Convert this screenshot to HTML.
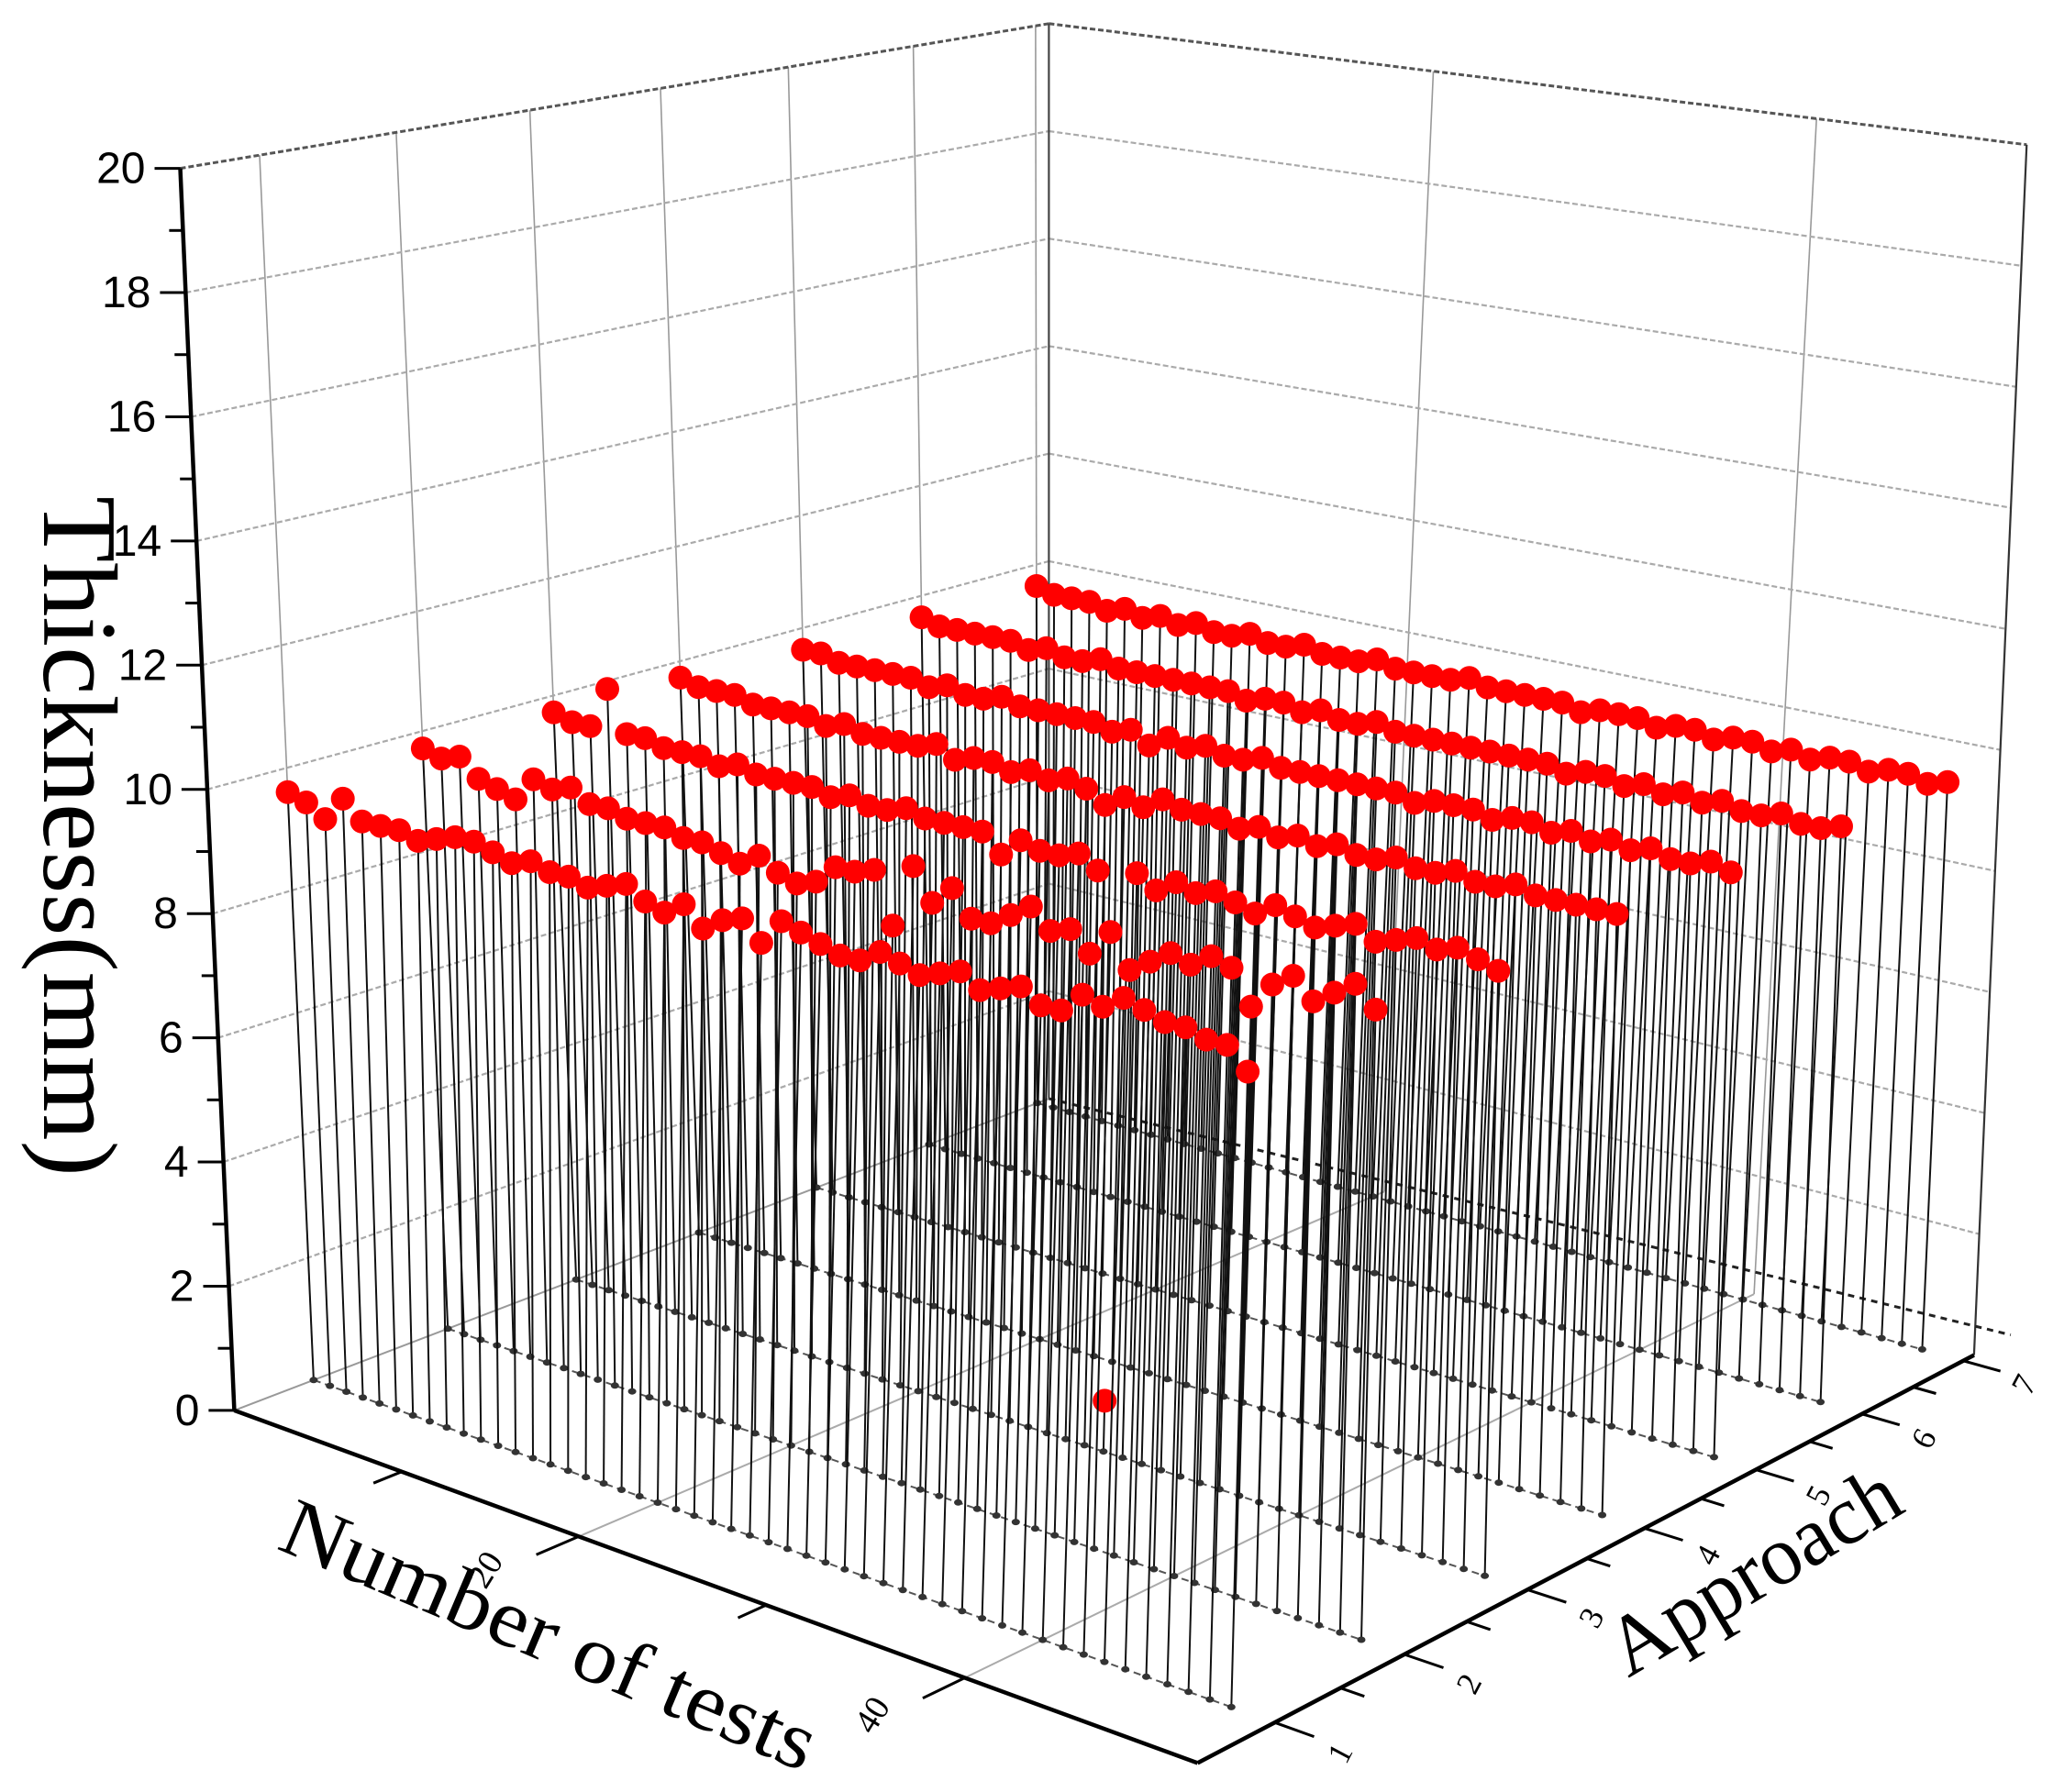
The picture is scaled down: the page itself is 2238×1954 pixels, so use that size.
<!DOCTYPE html>
<html><head><meta charset="utf-8"><style>
html,body{margin:0;padding:0;background:#fff;}
svg{display:block;}
</style></head><body>
<svg id="chart" width="2238" height="1954" viewBox="0 0 2238 1954" xmlns="http://www.w3.org/2000/svg">
<g id="walls"></g>
<g id="floor"></g>
<g id="series"></g>
<g id="axes"></g>
<text transform="translate(48,541) rotate(90)" font-family="Liberation Serif, serif" font-size="116" textLength="742" lengthAdjust="spacingAndGlyphs" fill="#000">Thickness(mm)</text>
<text transform="translate(300,1688) rotate(23)" font-family="Liberation Serif, serif" font-size="90" textLength="625" lengthAdjust="spacingAndGlyphs" fill="#000">Number of tests</text>
<text transform="translate(1775,1830) rotate(-31)" font-family="Liberation Serif, serif" font-size="92" textLength="355" lengthAdjust="spacingAndGlyphs" fill="#000">Approach</text>
</svg>
<script>
const approaches = [1,2,3,4,5,6,7];
const zTicks = [0,2,4,6,8,10,12,14,16,18,20];
const xTicks = [10,20,30,40];
const xTickLabels = ["","20","","40"];
const yTickLabels = ["1","2","3","4","5","6","7"];
const row1 = [9.6,9.5,9.3,9.7,9.4,9.4,9.4,9.3,9.4,9.5,9.5,9.4,9.3,9.4,9.3,9.3,9.2,9.3,9.4,9.2,9.1,9.3,9.0,9.2,9.3,9.0,9.4,9.3,9.2,9.1,9.1,9.3,9.2,9.1,9.2,9.3,9.1,9.2,9.3,9.1,9.1,9.4,9.3,9.5,9.4,9.3,9.3,9.2,9.2,8.9];
const row2 = [9.7,9.6,9.7,9.4,9.3,9.2,9.6,9.5,9.6,9.4,9.4,9.3,9.3,9.3,9.2,9.2,9.1,9.0,9.2,9.0,8.9,9.0,9.3,9.3,9.4,8.6,9.6,9.1,9.4,9.0,9.0,9.2,9.4,9.1,9.2,8.9,9.3,8.8,9.0,9.2,9.1,9.3,9.2,8.7,9.1,9.3,9.0,9.2,9.4,9.1];
const row3 = [9.7,9.6,9.6,10.3,9.6,9.6,9.5,9.5,9.5,9.4,9.5,9.4,9.4,9.4,9.4,9.3,9.4,9.3,9.3,9.4,9.3,9.3,9.3,9.3,9.0,9.3,9.2,9.2,9.3,9.1,0.8,9.2,9.0,9.2,9.1,9.2,9.1,9.0,9.2,9.1,9.0,9.1,9.2,9.0,9.1,9.2,9.1,9.2,9.1,9.0];
const row4 = [9.7,9.6,9.6,9.6,9.5,9.5,9.5,9.5,9.4,9.5,9.4,9.4,9.4,9.4,9.5,9.3,9.4,9.4,9.3,9.4,9.3,9.4,9.3,9.1,9.3,9.2,9.4,9.3,9.3,9.3,9.2,9.3,9.2,9.3,9.2,9.3,9.2,9.2,9.3,9.2,9.2,9.3,9.2,9.2,9.3,9.2,9.2,9.2,9.2,9.2];
const row5 = [9.6,9.6,9.5,9.5,9.5,9.5,9.5,9.4,9.5,9.4,9.4,9.5,9.4,9.4,9.4,9.4,9.4,9.3,9.4,9.2,9.4,9.3,9.4,9.3,9.3,9.4,9.3,9.3,9.3,9.3,9.3,9.3,9.3,9.2,9.3,9.3,9.3,9.2,9.3,9.3,9.2,9.3,9.2,9.3,9.2,9.3,9.2,9.2,9.3,9.2];
const row6 = [9.6,9.5,9.5,9.5,9.5,9.5,9.4,9.5,9.4,9.4,9.5,9.4,9.4,9.4,9.4,9.4,9.4,9.4,9.3,9.4,9.4,9.3,9.4,9.3,9.3,9.4,9.3,9.3,9.3,9.3,9.3,9.3,9.3,9.3,9.3,9.2,9.3,9.3,9.2,9.3,9.2,9.3,9.2,9.3,9.2,9.2,9.3,9.2,9.2,9.3];
const row7 = [9.6,9.5,9.5,9.5,9.4,9.5,9.4,9.5,9.4,9.5,9.4,9.4,9.5,9.4,9.4,9.5,9.4,9.4,9.4,9.5,9.4,9.4,9.4,9.4,9.5,9.4,9.4,9.4,9.4,9.4,9.3,9.4,9.4,9.4,9.3,9.4,9.4,9.3,9.4,9.4,9.3,9.4,9.3,9.4,9.4,9.3,9.4,9.4,9.3,9.4];
const rows = [row1,row2,row3,row4,row5,row6,row7];

const NS='http://www.w3.org/2000/svg';
const T_MAX=51, A0=0.43, A1=7.11, Z_MAX=20;
function makeH(p0,p1,p2,p3){
  const x0=p0[0],y0=p0[1],x1=p1[0],y1=p1[1],x2=p2[0],y2=p2[1],x3=p3[0],y3=p3[1];
  const dx1=x1-x2,dx2=x3-x2,dx3=x0-x1+x2-x3,dy1=y1-y2,dy2=y3-y2,dy3=y0-y1+y2-y3;
  const den=dx1*dy2-dx2*dy1;
  const g=(dx3*dy2-dx2*dy3)/den,h=(dx1*dy3-dx3*dy1)/den;
  const a=x1-x0+g*x1,b=x3-x0+h*x3,d=y1-y0+g*y1,e=y3-y0+h*y3;
  return (u,v)=>{const w=g*u+h*v+1;return [(a*u+b*v+x0)/w,(d*u+e*v+y0)/w];};
}
const H0=makeH([255.4,1537.9],[1305.5,1922.4],[2151.9,1477.6],[1143.4,1197.9]);
const H1=makeH([196.5,183.6],[1348.5,325],[2209.3,157.8],[1143.4,25.8]);
function P(t,a,z){
  const u=t/T_MAX,v=(a-A0)/(A1-A0);
  const f=H0(u,v),g=H1(u,v),s=z/Z_MAX;
  return [f[0]+(g[0]-f[0])*s,f[1]+(g[1]-f[1])*s];
}
function el(parent,tag,attrs){const e=document.createElementNS(NS,tag);for(const k in attrs)e.setAttribute(k,attrs[k]);parent.appendChild(e);return e;}
function line(parent,p,q,stroke,w,dash){const a={x1:p[0].toFixed(1),y1:p[1].toFixed(1),x2:q[0].toFixed(1),y2:q[1].toFixed(1),stroke:stroke,'stroke-width':w};if(dash)a['stroke-dasharray']=dash;return el(parent,'line',a);}

const walls=document.getElementById('walls');
approaches.forEach(a=>{const l=line(walls,P(0,a,0),P(0,a,Z_MAX),'#999',1.6);

});
[20,40].forEach(t=>{const l=line(walls,P(t,A1,0),P(t,A1,Z_MAX),'#999',1.6);

});
zTicks.forEach(z=>{
  if(z===0)return;
  const top=z===Z_MAX;
  const c=top?'#555':'#aaa', w=top?3:2.2;
  const l1=line(walls,P(0,A0,z),P(0,A1,z),c,w,'6 3');
  
  
  const l2=line(walls,P(0,A1,z),P(T_MAX,A1,z),c,w,'6 3');
  
  
});
const corner=line(walls,P(0,A1,0),P(0,A1,Z_MAX),'#444',2.2);


const rEdge=line(walls,P(T_MAX,A1,0),P(T_MAX,A1,Z_MAX),'#333',2.2);



const floor=document.getElementById('floor');
[20,40].forEach(t=>{const l=line(floor,P(t,A0,0),P(t,A1,0),'#aaa',2);

});
const fe1=line(floor,P(0,A0,0),P(0,A1,0),'#999',2);


const fe2=line(floor,P(0,A1,0),[P(T_MAX,A1,0)[0]+40,P(T_MAX,A1,0)[1]-22],'#222',3,'7 6');



const series=document.getElementById('series');
for(let r=rows.length-1;r>=0;r--){
  const a=approaches[r], vals=rows[r];
  const g=el(series,'g',{});
  
  
  const fl=line(g,P(0,a,0),P(vals.length-1,a,0),'#555',2,'8 5');
  
  
  vals.forEach((v,i)=>{
    const t=i, b=P(t,a,0), p=P(t,a,v);
    const s=line(g,b,p,'#111',2);
    
    
    const fd=el(g,'ellipse',{cx:b[0].toFixed(1),cy:b[1].toFixed(1),rx:4.5,ry:3.5,fill:'#333'});
    
    
  });
  vals.forEach((v,i)=>{
    const p=P(i,a,v);
    const c=el(g,'circle',{cx:p[0].toFixed(1),cy:p[1].toFixed(1),r:13,fill:'#ff0000'});
    
    
  });
}

const axes=document.getElementById('axes');
const zax=line(axes,P(0,A0,0),P(0,A0,Z_MAX),'#000',4.5);


for(let z=0;z<=Z_MAX;z++){
  const p=P(0,A0,z), major=z%2===0, len=major?28:15;
  const tk=line(axes,p,[p[0]-len,p[1]],'#000',3);
  
  
}
zTicks.forEach(z=>{
  const p=P(0,A0,z);
  const tx=el(axes,'text',{x:(p[0]-38).toFixed(1),y:(p[1]+16).toFixed(1),'text-anchor':'end','font-family':'Liberation Sans, sans-serif','font-size':48,fill:'#000'});
  tx.textContent=String(z);
  
  
});
const xax=line(axes,P(0,A0,0),P(T_MAX,A0,0),'#000',4.5);


xTicks.forEach((t,i)=>{
  const p=P(t,A0,0), major=xTickLabels[i]!=='';
  const q=P(t,A0-(major?0.3:0.2),0);
  const tk=line(axes,p,q,'#000',3);
  
  
  if(major){
    const lp=P(t,A0-0.55,0);
    const tx=el(axes,'text',{transform:`translate(${(lp[0]-6).toFixed(1)},${(lp[1]+6).toFixed(1)}) rotate(-58)`,'text-anchor':'middle','font-family':'Liberation Serif, serif','font-size':38,fill:'#000'});
    tx.textContent=xTickLabels[i];
    
    
  }
});
const yax=line(axes,P(T_MAX,A0,0),P(T_MAX,A1,0),'#000',4.5);


approaches.forEach((a,i)=>{
  const p=P(T_MAX,a,0), q=P(T_MAX+1.8,a,0);
  const tk=line(axes,p,q,'#000',3);
  
  
  if(a<7){const m=P(T_MAX,a+0.5,0),mq=P(T_MAX+1.1,a+0.5,0);
    const mt=line(axes,m,mq,'#000',3);
    
    }
  const lp=P(T_MAX+3.4,a,0);
  const tx=el(axes,'text',{transform:`translate(${lp[0].toFixed(1)},${(lp[1]+10).toFixed(1)}) rotate(-62)`,'text-anchor':'middle','font-family':'Liberation Serif, serif','font-size':36,fill:'#000'});
  tx.textContent=yTickLabels[i];
  
  
});
</script>
</body></html>
